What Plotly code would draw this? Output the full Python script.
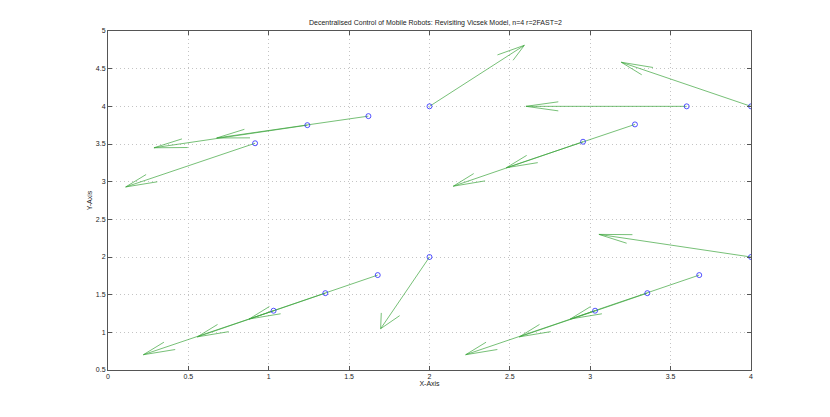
import plotly.graph_objects as go
import plotly.figure_factory as ff

# robot positions
pos_x = [1.62, 1.24, 0.915, 2.0, 3.6, 4.0, 3.278, 2.955,
         2.0, 1.678, 1.352, 1.03, 3.678, 3.355, 3.03, 4.0]
pos_y = [3.87, 3.75, 3.51, 4.0, 4.0, 4.0, 3.76, 3.53,
         2.0, 1.76, 1.52, 1.287, 1.76, 1.52, 1.287, 2.0]

# heading vectors
vel_u = [-0.944, -0.954, -0.805, 0.59, -1.0, -0.807, -0.80, -0.807,
         -0.304, -0.80, -0.796, -0.81, -0.802, -0.796, -0.805, -0.946]
vel_v = [-0.29, -0.30, -0.58, 0.81, 0.0, 0.585, -0.575, -0.59,
         -0.952, -0.583, -0.58, -0.584, -0.583, -0.58, -0.584, 0.30]

x_ticks = [0, 0.5, 1, 1.5, 2, 2.5, 3, 3.5, 4]
y_ticks = [0.5, 1, 1.5, 2, 2.5, 3, 3.5, 4, 4.5, 5]

title = "Decentralised Control of Mobile Robots: Revisiting Vicsek Model, n=4 r=2FAST=2"

font = dict(family="Liberation Sans, Arial, sans-serif", size=7, color="#222")

fig = ff.create_quiver(pos_x, pos_y, vel_u, vel_v, scale=1,
                       arrow_scale=0.21, angle=0.29,
                       line=dict(color="rgb(60,165,60)", width=0.7),
                       showlegend=False, hoverinfo="skip")

fig.add_trace(go.Scatter(
    x=pos_x, y=pos_y, mode="markers",
    marker=dict(symbol="circle-open", size=5, color="rgb(40,40,255)", line=dict(width=0.8)),
    showlegend=False
))

axis_common = dict(
    showline=True, linecolor="#555", linewidth=1, mirror="ticks",
    ticks="inside", ticklen=4, tickcolor="#555",
    showgrid=True, gridcolor="#c4c4c4", griddash="1px,3px", gridwidth=1,
    zeroline=False, tickfont=font,
)

# page body adds 8px offset, so margins are shifted accordingly
fig.update_layout(
    width=830, height=417,
    margin=dict(l=100, r=87, t=23, b=55),
    plot_bgcolor="white", paper_bgcolor="white",
    font=font,
    title=dict(text=title, x=0.515, xanchor="center", y=0.965, yanchor="middle",
               font=dict(family=font["family"], size=7, color="#222")),
    xaxis=dict(range=[0, 4], tickvals=x_ticks, ticktext=[f"{t:g}" for t in x_ticks],
               title=dict(text="X-Axis", standoff=1, font=font), **axis_common),
    yaxis=dict(range=[0.5, 5], tickvals=y_ticks, ticktext=[f"{t:g}" for t in y_ticks],
               title=dict(text="Y-Axis", standoff=2, font=font), **axis_common),
)

fig.write_html("out.html")
